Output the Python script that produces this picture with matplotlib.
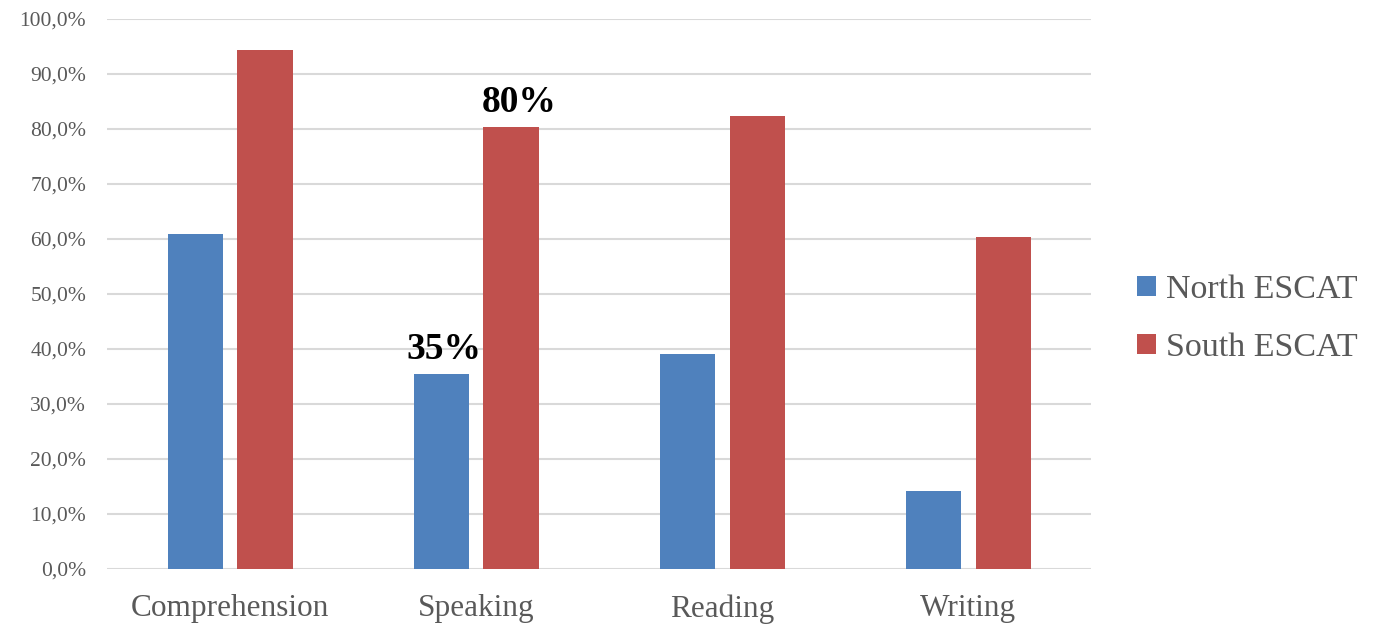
import matplotlib.pyplot as plt
import numpy as np

categorias = ['Comprehension', 'Speaking', 'Reading', 'Writing']
north = [61.0, 35.4, 39.1, 14.2]
south = [94.4, 80.4, 82.4, 60.4]
series = ['North ESCAT', 'South ESCAT']
colores = ['#4F81BD', '#C0504D']
ticks_y = [0, 10, 20, 30, 40, 50, 60, 70, 80, 90, 100]

plt.rcParams['font.family'] = ['Liberation Serif', 'DejaVu Serif']

fig = plt.figure(figsize=(13.83, 6.25), dpi=100)
ax = fig.add_axes([0.0774, 0.0896, 0.7116, 0.88])

x = np.arange(len(categorias))
ancho = 0.224
desp = 0.142
barras_n = ax.bar(x - desp, north, ancho, color=colores[0], label=series[0], zorder=3)
barras_s = ax.bar(x + desp, south, ancho, color=colores[1], label=series[1], zorder=3)

# etiquetas resaltadas sobre Speaking
ax.annotate('35%', (x[1] - desp, north[1]), xytext=(2, 11), textcoords='offset points',
            ha='center', va='baseline', fontsize=27, fontweight='bold', color='black')
ax.annotate('80%', (x[1] + desp, south[1]), xytext=(6, 11), textcoords='offset points',
            ha='center', va='baseline', fontsize=27, fontweight='bold', color='black')

ax.set_xlim(-0.5, len(categorias) - 0.5)
ax.set_ylim(0, 100)
ax.set_yticks(ticks_y)
ax.set_yticklabels([f'{t:.1f}%'.replace('.', ',') for t in ticks_y])
ax.set_xticks(x)
ax.set_xticklabels(categorias)

ax.grid(axis='y', color='#D9D9D9', linewidth=1.5, zorder=0)
ax.set_axisbelow(True)
for s in ax.spines.values():
    s.set_visible(False)
ax.tick_params(axis='y', length=0, pad=15, labelsize=15.5, labelcolor='#595959')
ax.tick_params(axis='x', length=0, pad=18, labelsize=22.5, labelcolor='#595959')

fig.legend(handles=[barras_n, barras_s], labels=series, loc='center left',
           bbox_to_anchor=(0.8, 0.49), frameon=False, fontsize=24.5,
           labelcolor='#595959', handlelength=0.55, handleheight=0.55,
           handletextpad=0.3, labelspacing=0.8)

fig.savefig('out.png', dpi=100)
